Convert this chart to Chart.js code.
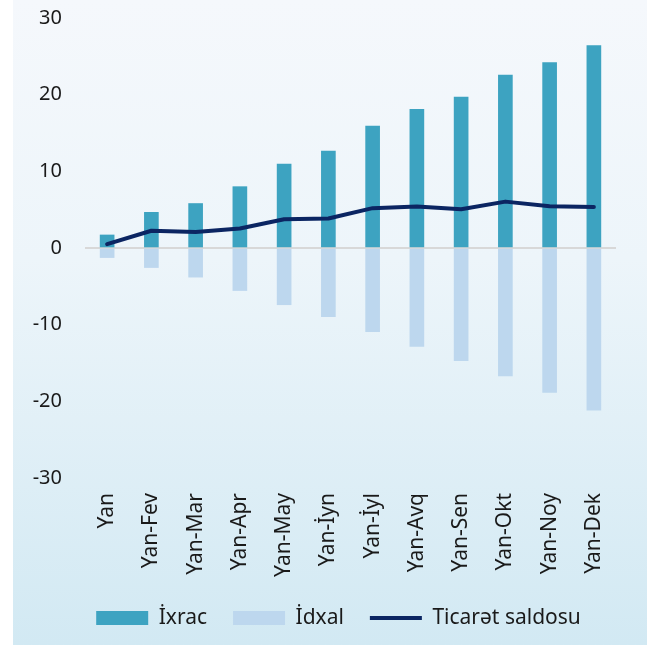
<!DOCTYPE html>
<html>
<head>
<meta charset="utf-8">
<script src="https://cdn.jsdelivr.net/npm/chart.js@4"></script>
<style>
  html, body { margin: 0; padding: 0; background: #ffffff; }
  #bg { position: absolute; left: 13px; top: 0; width: 634px; height: 645px;
        background: linear-gradient(to bottom, #f5f8fc 0%, #edf5fa 40%, #d2e9f3 100%); }
  #wrap { position: absolute; left: 0; top: 0; width: 651px; height: 646px; }
</style>
</head>
<body>
<div id="bg"></div>
<div id="wrap"><canvas id="c" width="651" height="646"></canvas></div>
<script>
const categories = ["Yan", "Yan-Fev", "Yan-Mar", "Yan-Apr", "Yan-May", "Yan-İyn", "Yan-İyl", "Yan-Avq", "Yan-Sen", "Yan-Okt", "Yan-Noy", "Yan-Dek"];
const exportValues = [1.7, 4.65, 5.8, 8.0, 10.95, 12.65, 15.9, 18.1, 19.7, 22.55, 24.2, 26.4];
const importValues = [-1.25, -2.55, -3.8, -5.55, -7.4, -8.95, -10.9, -12.85, -14.7, -16.7, -18.85, -21.15];
const balanceValues = [0.5, 2.25, 2.1, 2.55, 3.75, 3.85, 5.2, 5.4, 5.05, 6.05, 5.45, 5.35];
const yTicks = [-30, -20, -10, 0, 10, 20, 30];
const seriesNames = ["İxrac", "İdxal", "Ticarət saldosu"];

const FONT = "'Noto Sans', 'Open Sans', sans-serif";
const C_EXP = '#3da3c1';
const C_IMP = '#bdd7ee';
const C_BAL = '#0b2562';

// Place the legend where the reference has it (centre line y≈618, shifted right)
const legendPlace = {
  id: 'legendPlace',
  afterLayout(chart) {
    const lg = chart.legend;
    if (!lg) return;
    const dx = 24;
    const h = lg.bottom - lg.top;
    lg.left += dx; lg.right += dx;
    lg.top = 618 - 26 - 10.5;
    lg.bottom = lg.top + h;
  }
};

new Chart(document.getElementById('c'), {
  type: 'bar',
  data: {
    labels: categories,
    datasets: [
      { type: 'bar', label: seriesNames[0], data: exportValues, backgroundColor: C_EXP, barThickness: 14, order: 2 },
      { type: 'bar', label: seriesNames[1], data: importValues, backgroundColor: C_IMP, barThickness: 14, order: 3 },
      { type: 'line', label: seriesNames[2], data: balanceValues, borderColor: C_BAL, backgroundColor: C_BAL,
        borderWidth: 4, pointRadius: 0, tension: 0, borderCapStyle: 'round', borderJoinStyle: 'round', order: 1 }
    ]
  },
  plugins: [legendPlace],
  options: {
    responsive: false,
    animation: false,
    devicePixelRatio: 1,
    layout: { padding: { left: 13, right: 35, top: 18, bottom: 0 } },
    plugins: {
      tooltip: { enabled: false },
      legend: {
        position: 'bottom',
        maxHeight: 44,
        labels: {
          usePointStyle: true,
          pointStyleWidth: 52,
          boxHeight: 14,
          padding: 26,
          color: '#1a1a1a',
          font: { family: FONT, size: 21 },
          generateLabels: (chart) => chart.data.datasets.map((ds, i) => ({
            text: ds.label,
            fillStyle: ds.type === 'line' ? ds.borderColor : ds.backgroundColor,
            strokeStyle: ds.type === 'line' ? ds.borderColor : ds.backgroundColor,
            lineWidth: ds.type === 'line' ? 4 : 0,
            pointStyle: ds.type === 'line' ? 'line' : 'rect',
            hidden: false,
            datasetIndex: i,
            fontColor: '#1a1a1a'
          }))
        }
      }
    },
    scales: {
      x: {
        stacked: true,
        grid: { display: false, drawTicks: false },
        border: { display: false },
        ticks: { minRotation: 90, maxRotation: 90, padding: 15, color: '#1a1a1a', font: { family: FONT, size: 21 } },
        afterFit: (s) => { s.height = 124; }
      },
      y: {
        min: -30, max: 30,
        afterBuildTicks: (s) => { s.ticks = yTicks.map(v => ({ value: v })); },
        grid: {
          drawTicks: false,
          color: (ctx) => (ctx.tick && ctx.tick.value === 0) ? '#d8d8d8' : 'rgba(0,0,0,0)',
          lineWidth: 2
        },
        border: { display: false },
        ticks: { padding: 23, color: '#1a1a1a', font: { family: FONT, size: 20 } },
        afterFit: (s) => { s.width = 72; s.paddingTop = 0; s.paddingBottom = 0; }
      }
    }
  }
});
</script>
</body>
</html>
